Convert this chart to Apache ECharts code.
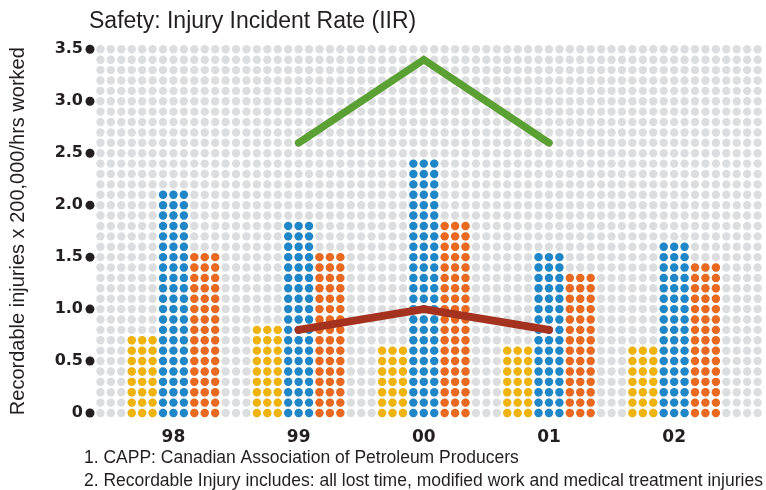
<!DOCTYPE html>
<html><head><meta charset="utf-8">
<script src="https://cdn.jsdelivr.net/npm/echarts@6/dist/echarts.min.js"></script>
<style>html,body{margin:0;padding:0;background:#fff}#c{width:766px;height:490px}</style>
</head><body><div id="c"></div>
<script>
const categories = ['98', '99', '00', '01', '02'];
const yellowVals = [0.7, 0.8, 0.6, 0.6, 0.6];
const blueVals   = [2.1, 1.8, 2.4, 1.5, 1.6];
const orangeVals = [1.5, 1.5, 1.8, 1.3, 1.4];
const greenLine  = [null, 2.6, 3.4, 2.6, null];
const redLine    = [null, 0.8, 1.0, 0.8, null];
const yTicks = [0, 0.5, 1.0, 1.5, 2.0, 2.5, 3.0, 3.5];
const footnotes = [
  '1. CAPP: Canadian Association of Petroleum Producers',
  '2. Recordable Injury includes: all lost time, modified work and medical treatment injuries'
];

const COLS = 64, STEP = 0.1, YMAX = 3.5;
const catWidth = 12;
const offsets = {yellow: 3, blue: 6, orange: 9};
const centerOf = i => i * catWidth + offsets.blue + 1;

function barDots(vals, off) {
  const pts = [];
  vals.forEach((v, i) => {
    const n = Math.round(v / STEP);
    for (let c = 0; c < 3; c++)
      for (let k = 0; k <= n; k++) pts.push([i * catWidth + off + c, +(k * STEP).toFixed(2)]);
  });
  return pts;
}
const bg = [];
for (let c = 0; c < COLS; c++)
  for (let k = 0; k <= Math.round(YMAX / STEP); k++) bg.push([c, +(k * STEP).toFixed(2)]);

const lineData = arr => arr.map((v, i) => v == null ? null : [centerOf(i), v]).filter(d => d);

const chart = echarts.init(document.getElementById('c'));
const DOT = 8.4;
const dotSeries = (data, color, z) => ({type: 'scatter', data, symbolSize: DOT, silent: true, z,
  itemStyle: {color, opacity: 1}});
chart.setOption({
  animation: false,
  backgroundColor: '#fff',
  textStyle: {fontFamily: 'Liberation Sans, Arial, sans-serif'},
  title: {
    text: 'Safety: Injury Incident Rate (IIR)', left: 84, top: 5,
    textStyle: {fontSize: 23, fontWeight: 'normal', color: '#231F20', fontFamily: 'Liberation Sans'}
  },
  grid: {left: 90, right: 8.4, top: 49.3, bottom: 77, outerBoundsMode: 'none', containLabel: false},
  xAxis: {
    type: 'value', min: -1, max: COLS - 1, interval: 1,
    axisLine: {show: false}, axisTick: {show: false}, splitLine: {show: false},
    axisLabel: {
      margin: 16, fontSize: 17, fontWeight: 'bold', color: '#231F20', fontFamily: 'DejaVu Sans',
      formatter: v => {
        const i = (v - offsets.blue - 1) / catWidth;
        return Number.isInteger(i) && i >= 0 && i < categories.length ? categories[i] : '';
      }
    }
  },
  yAxis: {
    type: 'value', min: 0, max: YMAX, interval: 0.5,
    name: 'Recordable injuries x 200,000/hrs worked', nameLocation: 'middle', nameGap: 62,
    nameTextStyle: {fontSize: 20, color: '#231F20', fontFamily: 'Liberation Sans'},
    axisLine: {show: false}, axisTick: {show: false}, splitLine: {show: false},
    axisLabel: {margin: 7, fontSize: 16, fontWeight: 'bold', color: '#231F20', fontFamily: 'DejaVu Sans',
      formatter: v => v === 0 ? '0' : v.toFixed(1)}
  },
  graphic: footnotes.map((t, i) => ({
    type: 'text', left: 84, top: 449 + i * 23,
    style: {text: t, fontSize: 17.5, fill: '#231F20', fontFamily: 'Liberation Sans'}
  })),
  series: [
    dotSeries(bg, '#DCDDDF', 1),
    {type: 'scatter', data: yTicks.map(v => [-1, v]), symbolSize: 9, silent: true, z: 2,
      itemStyle: {color: '#231F20', opacity: 1}},
    dotSeries(barDots(yellowVals, offsets.yellow), '#F0B30A', 3),
    dotSeries(barDots(blueVals, offsets.blue), '#1F86C8', 3),
    dotSeries(barDots(orangeVals, offsets.orange), '#E8691F', 3),
    {type: 'line', data: lineData(greenLine), symbol: 'none', z: 5, silent: true,
      lineStyle: {color: '#5BA033', width: 7.5, cap: 'round', join: 'miter'}},
    {type: 'line', data: lineData(redLine), symbol: 'none', z: 5, silent: true,
      lineStyle: {color: '#A5321F', width: 8, cap: 'round', join: 'round'}}
  ]
});
</script></body></html>
